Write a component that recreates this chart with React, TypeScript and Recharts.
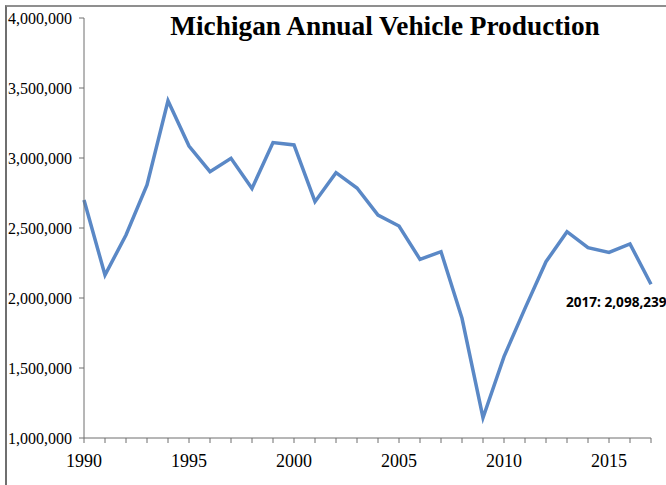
import React from 'react';
import { LineChart, Line, XAxis, YAxis, LabelList } from 'recharts';

const years = [1990, 1991, 1992, 1993, 1994, 1995, 1996, 1997, 1998, 1999, 2000, 2001, 2002, 2003, 2004, 2005, 2006, 2007, 2008, 2009, 2010, 2011, 2012, 2013, 2014, 2015, 2016, 2017];
const production = [2700000, 2164000, 2450000, 2807000, 3409000, 3085000, 2902000, 2998000, 2783000, 3110000, 3093000, 2688000, 2895000, 2786000, 2592000, 2514000, 2276000, 2331000, 1855000, 1145000, 1581000, 1926000, 2259000, 2474000, 2359000, 2326000, 2386000, 2098239];
const yTicks = [1000000, 1500000, 2000000, 2500000, 3000000, 3500000, 4000000];
const xLabelYears = [1990, 1995, 2000, 2005, 2010, 2015];
const title = 'Michigan Annual Vehicle Production';
const annotationText = '2017: 2,098,239';

const data = years.map((y, i) => ({ year: y, value: production[i] }));

const lastLabel = (props: any) => {
  const { x, y, index } = props;
  if (index !== data.length - 1) return null;
  return (
    <text x={x - 85} y={y + 19} dominantBaseline="middle" fontFamily="'Noto Sans', sans-serif" fontWeight={700} fontSize={13.6} fill="#000">
      {annotationText}
    </text>
  );
};

export default function App() {
  return (
    <div style={{ position: 'absolute', left: 0, top: 0, width: 666, height: 485, overflow: 'hidden', background: '#fff' }}>
      <div style={{ position: 'absolute', left: 5, top: 5, width: 700, height: 520, borderTop: '2px solid #8f8f8f', borderLeft: '2px solid #6f6f6f', boxSizing: 'border-box' }} />
      <LineChart width={666} height={485} data={data} margin={{ top: 18, right: 15, bottom: 17, left: 6 }}>
        <XAxis
          dataKey="year"
          type="number"
          domain={[1990, 2017]}
          ticks={years}
          interval={0}
          tickSize={5}
          tickMargin={11}
          height={30}
          stroke="#6e6e6e"
          tickFormatter={(v: number) => (xLabelYears.includes(v) ? String(v) : '')}
          tick={{ fill: '#000', fontFamily: "'Liberation Serif', 'Times New Roman', serif", fontSize: 18 }}
        />
        <YAxis
          type="number"
          domain={[1000000, 4000000]}
          ticks={yTicks}
          interval={0}
          width={78}
          tickSize={5}
          tickMargin={7}
          stroke="#6e6e6e"
          tickFormatter={(v: number) => v.toLocaleString('en-US')}
          tick={{ fill: '#000', fontFamily: "'Liberation Serif', 'Times New Roman', serif", fontSize: 16 }}
        />
        <Line type="linear" dataKey="value" stroke="#5a88c6" strokeWidth={3.5} dot={false} isAnimationActive={false}>
          <LabelList dataKey="value" content={lastLabel} />
        </Line>
      </LineChart>
      <div style={{ position: 'absolute', left: 385, top: 40, transform: 'translate(-50%, -100%)', whiteSpace: 'nowrap', fontFamily: "'Liberation Serif', 'Times New Roman', serif", fontWeight: 700, fontSize: 27.3, lineHeight: '27px', color: '#000' }}>
        {title}
      </div>
    </div>
  );
}
